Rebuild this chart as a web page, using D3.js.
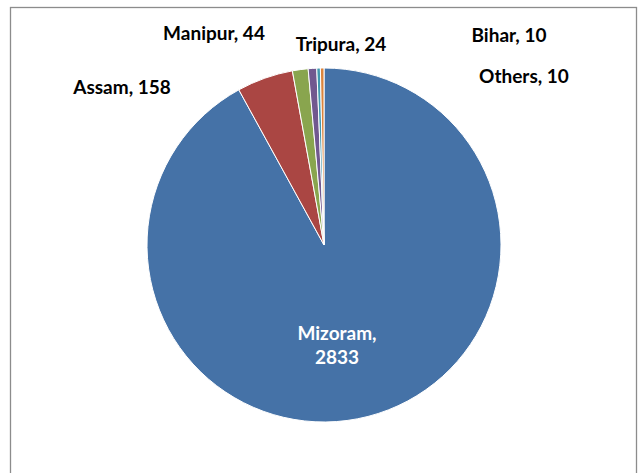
<!DOCTYPE html>
<html><head><meta charset="utf-8">
<script src="https://cdn.jsdelivr.net/npm/d3@7"></script>
<style>body{margin:0;background:#fff}</style>
</head><body>
<svg id="chart" width="639" height="473"></svg>
<script>
const categories = ["Mizoram", "Assam", "Manipur", "Tripura", "Bihar", "Others"];
const values = [2833, 158, 44, 24, 10, 10];
const colors = ["#4572A7", "#AA4643", "#89A54E", "#71588F", "#4198AF", "#DB843D"];
// label anchor positions (layout only)
const labelPos = [[337, 333], [122, 87], [214, 33], [341, 44], [509, 35], [524, 76]];

const svg = d3.select("#chart");
svg.append("rect").attr("x", 10.5).attr("y", 7.5).attr("width", 626).attr("height", 480)
  .attr("fill", "#fff").attr("stroke", "#8c8c8c").attr("stroke-width", 1.3);

const cx = 324, cy = 245, r = 177;
const data = categories.map((c, i) => ({name: c, value: values[i], i}));
const pie = d3.pie().value(d => d.value).sort(null).startAngle(0).endAngle(2 * Math.PI);
const arc = d3.arc().innerRadius(0).outerRadius(r);
const g = svg.append("g").attr("transform", `translate(${cx},${cy})`);
g.selectAll("path").data(pie(data)).join("path")
  .attr("d", arc).attr("fill", d => colors[d.data.i])
  .attr("stroke", "#fff").attr("stroke-width", 1);

const font = "Lato, Carlito, 'Open Sans', sans-serif";
data.forEach((d, i) => {
  const [x, y] = labelPos[i];
  const t = svg.append("text").attr("x", x).attr("y", y)
    .attr("text-anchor", "middle").attr("font-family", font).attr("font-weight", "bold")
    .attr("font-size", 19).attr("fill", i === 0 ? "#fff" : "#000");
  if (i === 0) {
    t.append("tspan").attr("x", x).attr("dy", "0.35em").text(d.name + ",");
    t.append("tspan").attr("x", x).attr("dy", 24).text(d.value);
  } else {
    t.attr("dy", "0.35em").text(d.name + ", " + d.value);
  }
});
</script>
</body></html>
